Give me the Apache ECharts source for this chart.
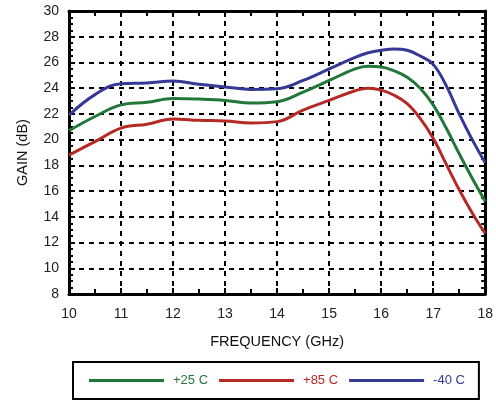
<!DOCTYPE html>
<html>
<head>
<meta charset="utf-8">
<script src="https://cdn.jsdelivr.net/npm/echarts@6/dist/echarts.min.js"></script>
<style>
html,body{margin:0;padding:0;background:#fff;}
#chart{width:496px;height:406px;}
</style>
</head>
<body>
<div id="chart"></div>
<script>
const freq = [10, 10.5, 11, 11.5, 12, 12.5, 13, 13.5, 14, 14.5, 15, 15.5, 15.75, 16, 16.25, 16.5, 16.75, 17, 17.25, 17.5, 17.75, 18];
const gain25 = [20.7, 21.8, 22.7, 22.9, 23.2, 23.15, 23.05, 22.85, 22.95, 23.7, 24.6, 25.5, 25.7, 25.65, 25.35, 24.85, 24.0, 22.7, 20.9, 18.9, 17.0, 15.2];
const gain85 = [18.8, 19.85, 20.9, 21.2, 21.6, 21.5, 21.45, 21.3, 21.4, 22.3, 23.05, 23.8, 24.0, 23.85, 23.45, 22.8, 21.65, 20.1, 18.1, 16.1, 14.3, 12.7];
const gainM40 = [21.9, 23.5, 24.35, 24.4, 24.55, 24.3, 24.1, 23.9, 23.95, 24.6, 25.5, 26.4, 26.75, 26.95, 27.05, 26.95, 26.5, 25.85, 24.2, 22.0, 20.0, 18.2];
const seriesNames = ['+25 C', '+85 C', '-40 C'];
const colors = ['#22763a', '#b52a25', '#363896'];
const xTicks = {min: 10, max: 18, interval: 1};
const yTicks = {min: 8, max: 30, interval: 2};
const xName = 'FREQUENCY (GHz)';
const yName = 'GAIN (dB)';

const FONT = '"Liberation Sans", Arial, Helvetica, sans-serif';
const pair = (xs, ys) => xs.map((x, i) => [x, ys[i]]);
const dash = {color: '#000', width: 2, type: [5, 5]};

function xAxis(pos, main) {
  return {
    type: 'value', position: pos, min: xTicks.min, max: xTicks.max, interval: xTicks.interval,
    name: main ? xName : '', nameLocation: 'middle', nameGap: 40,
    nameTextStyle: {fontFamily: FONT, fontSize: 14.5, color: '#111'},
    axisLine: {show: true, onZero: false, lineStyle: {color: '#000', width: 3}},
    axisTick: {show: true, inside: true, length: 6, lineStyle: {color: '#000', width: 2}},
    minorTick: {show: true, splitNumber: 2, length: 5, lineStyle: {color: '#000', width: 2}},
    axisLabel: {show: main, margin: 13, fontFamily: FONT, fontSize: 14, color: '#222'},
    splitLine: {show: main, lineStyle: dash}
  };
}
function yAxis(pos, main) {
  return {
    type: 'value', position: pos, min: yTicks.min, max: yTicks.max, interval: yTicks.interval,
    name: main ? yName : '', nameLocation: 'middle', nameGap: 39, nameRotate: 90,
    nameTextStyle: {fontFamily: FONT, fontSize: 14.5, color: '#111'},
    axisLine: {show: true, onZero: false, lineStyle: {color: '#000', width: 3}},
    axisTick: {show: true, inside: true, length: 6, lineStyle: {color: '#000', width: 2}},
    minorTick: {show: true, splitNumber: 4, length: 4, lineStyle: {color: '#000', width: 2}},
    axisLabel: {show: main, margin: 10, fontFamily: FONT, fontSize: 14, color: '#222'},
    splitLine: {show: main, lineStyle: dash}
  };
}

const values = [gain25, gain85, gainM40];
const chart = echarts.init(document.getElementById('chart'), null, {renderer: 'canvas'});
chart.setOption({
  animation: false,
  backgroundColor: '#fff',
  grid: {left: 69, right: 9, top: 11, bottom: 112, containLabel: false},
  xAxis: [xAxis('bottom', true), xAxis('top', false)],
  yAxis: [yAxis('left', true), yAxis('right', false)],
  legend: {
    left: 73, top: 362, orient: 'horizontal',
    icon: 'rect',
    itemWidth: 75, itemHeight: 3, itemGap: 11,
    padding: [12, 14, 12, 16],
    borderColor: '#000', borderWidth: 2,
    textStyle: {fontFamily: FONT, fontSize: 13, padding: [0, 0, 0, 4]},
    data: seriesNames.map((n, i) => ({name: n, textStyle: {color: colors[i]}}))
  },
  series: seriesNames.map((n, i) => ({
    name: n, type: 'line', xAxisIndex: 0, yAxisIndex: 0,
    data: pair(freq, values[i]),
    smooth: 0.4, symbol: 'none',
    lineStyle: {color: colors[i], width: 3},
    itemStyle: {color: colors[i]}
  }))
});
</script>
</body>
</html>
